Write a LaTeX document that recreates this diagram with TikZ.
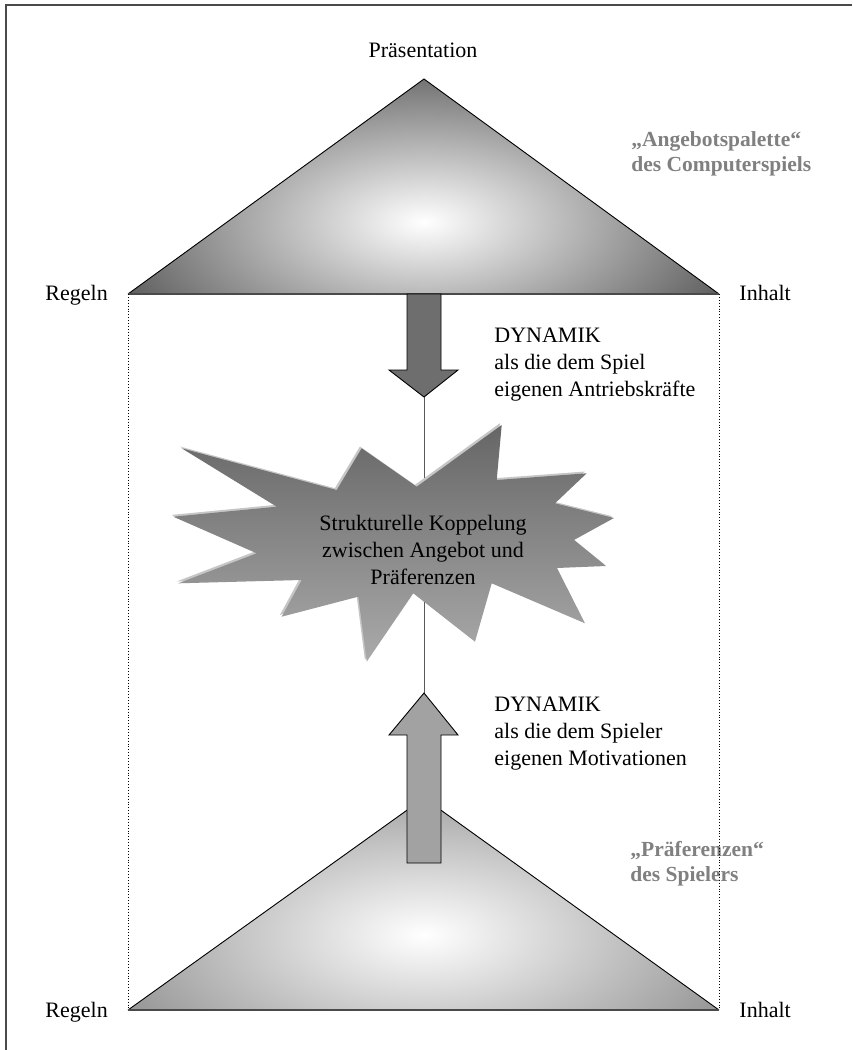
\documentclass[tikz,border=0pt]{standalone}
\usepackage{fontspec}
\setmainfont{Liberation Serif}

\definecolor{framegray}{HTML}{4A4A4A}
\definecolor{topgray}{HTML}{5E5E5E}
\definecolor{botgray}{HTML}{979797}
\definecolor{arrowdark}{HTML}{6E6E6E}
\definecolor{arrowlight}{HTML}{A2A2A2}
\definecolor{notegray}{HTML}{808080}
\definecolor{burstdark}{HTML}{666666}
\definecolor{burstlight}{HTML}{AAAAAA}

\newcommand{\burstoutline}{(181.7,448.3) -- (336.7,490) -- (361.7,448.3) -- (416.7,486.7) -- (501.7,425) -- (496.7,480) -- (586.7,473.3) -- (555,503.3) -- (614,518) -- (574,540) -- (606,566) -- (557,568) -- (585,623.3) -- (491.7,583.3) -- (475,641.7) -- (413.3,593.3) -- (366.7,661.7) -- (358.3,596.7) -- (281.7,616.7) -- (301.7,580) -- (178.3,583.3) -- (256.7,553.3) -- (173.3,516.7) -- (276.7,506.7) -- cycle}

\begin{document}
\begin{tikzpicture}[x=1pt,y=-1pt,line width=0.9pt,
    txt/.style={font=\fontsize{22}{27}\selectfont,inner sep=0pt},
    note/.style={font=\fontsize{21.5}{25}\selectfont\bfseries,text=notegray,inner sep=0pt,align=left}]
    \useasboundingbox (0,0) rectangle (852,1050);
    \draw[framegray,line width=2pt] (6,1050) -- (6,5) -- (852,5);

    \coordinate (tapex) at (424,79);
    \coordinate (tleft) at (128,294);
    \coordinate (tright) at (719,294);
    \coordinate (bapex) at (424,798);
    \coordinate (bleft) at (128,1010);
    \coordinate (bright) at (719,1010);

    \begin{scope}
        \clip (tapex) -- (tright) -- (tleft) -- cycle;
        \fill[topgray] (tapex) -- (tright) -- (tleft) -- cycle;
        \shade[inner color=white,outer color=topgray] (424,222) ellipse (330 and 165);
    \end{scope}
    \draw (tleft) -- (tapex) -- (tright);
    \draw[framegray,line width=1.6pt] (tleft) -- (tright);

    \begin{scope}
        \clip (bapex) -- (bright) -- (bleft) -- cycle;
        \fill[botgray] (bapex) -- (bright) -- (bleft) -- cycle;
        \shade[inner color=white,outer color=botgray] (424,935) ellipse (330 and 160);
    \end{scope}
    \draw (bleft) -- (bapex) -- (bright);
    \draw[framegray,line width=1.6pt] (bleft) -- (bright);

    \coordinate (dtip) at (424,397);
    \coordinate (utip) at (424,693);
    \draw[gray!70!black,line width=0.8pt] (dtip) -- (utip);

    \draw[fill=arrowdark] (407,294) -- (441,294) -- (441,370) -- (458,370) -- (dtip) -- (389,370) -- (407,370) -- cycle;
    \draw[fill=arrowlight] (407,863) -- (441,863) -- (441,735) -- (458,735) -- (utip) -- (389,735) -- (407,735) -- cycle;

    \fill[gray!45,shift={(-1.8,-1.8)}] \burstoutline;
    \shade[top color=burstdark,bottom color=burstlight] \burstoutline;

    \node[txt,align=center,anchor=north] (coupling) at (423,515) {Strukturelle Koppelung\\zwischen Angebot und\\Präferenzen};

    \node[txt,anchor=base] (praes) at (423,57) {Präsentation};
    \node[txt,anchor=base west] (rtop) at (45,300) {Regeln};
    \node[txt,anchor=base west] (itop) at (739,300) {Inhalt};
    \node[txt,anchor=base west] (rbot) at (45,1017) {Regeln};
    \node[txt,anchor=base west] (ibot) at (739,1017) {Inhalt};

    \node[txt,align=left,anchor=north west] (dynspiel) at (494,328) {DYNAMIK\\als die dem Spiel\\eigenen Antriebskräfte};
    \node[txt,align=left,anchor=north west] (dynspieler) at (494,697) {DYNAMIK\\als die dem Spieler\\eigenen Motivationen};

    \node[note,anchor=north west] (angebot) at (631,131) {„Angebotspalette“\\des Computerspiels};
    \node[note,anchor=north west] (praef) at (630,841) {„Präferenzen“\\des Spielers};

    \draw[dotted] (tleft) -- (bleft);
    \draw[dotted] (tright) -- (bright);
\end{tikzpicture}
\end{document}
